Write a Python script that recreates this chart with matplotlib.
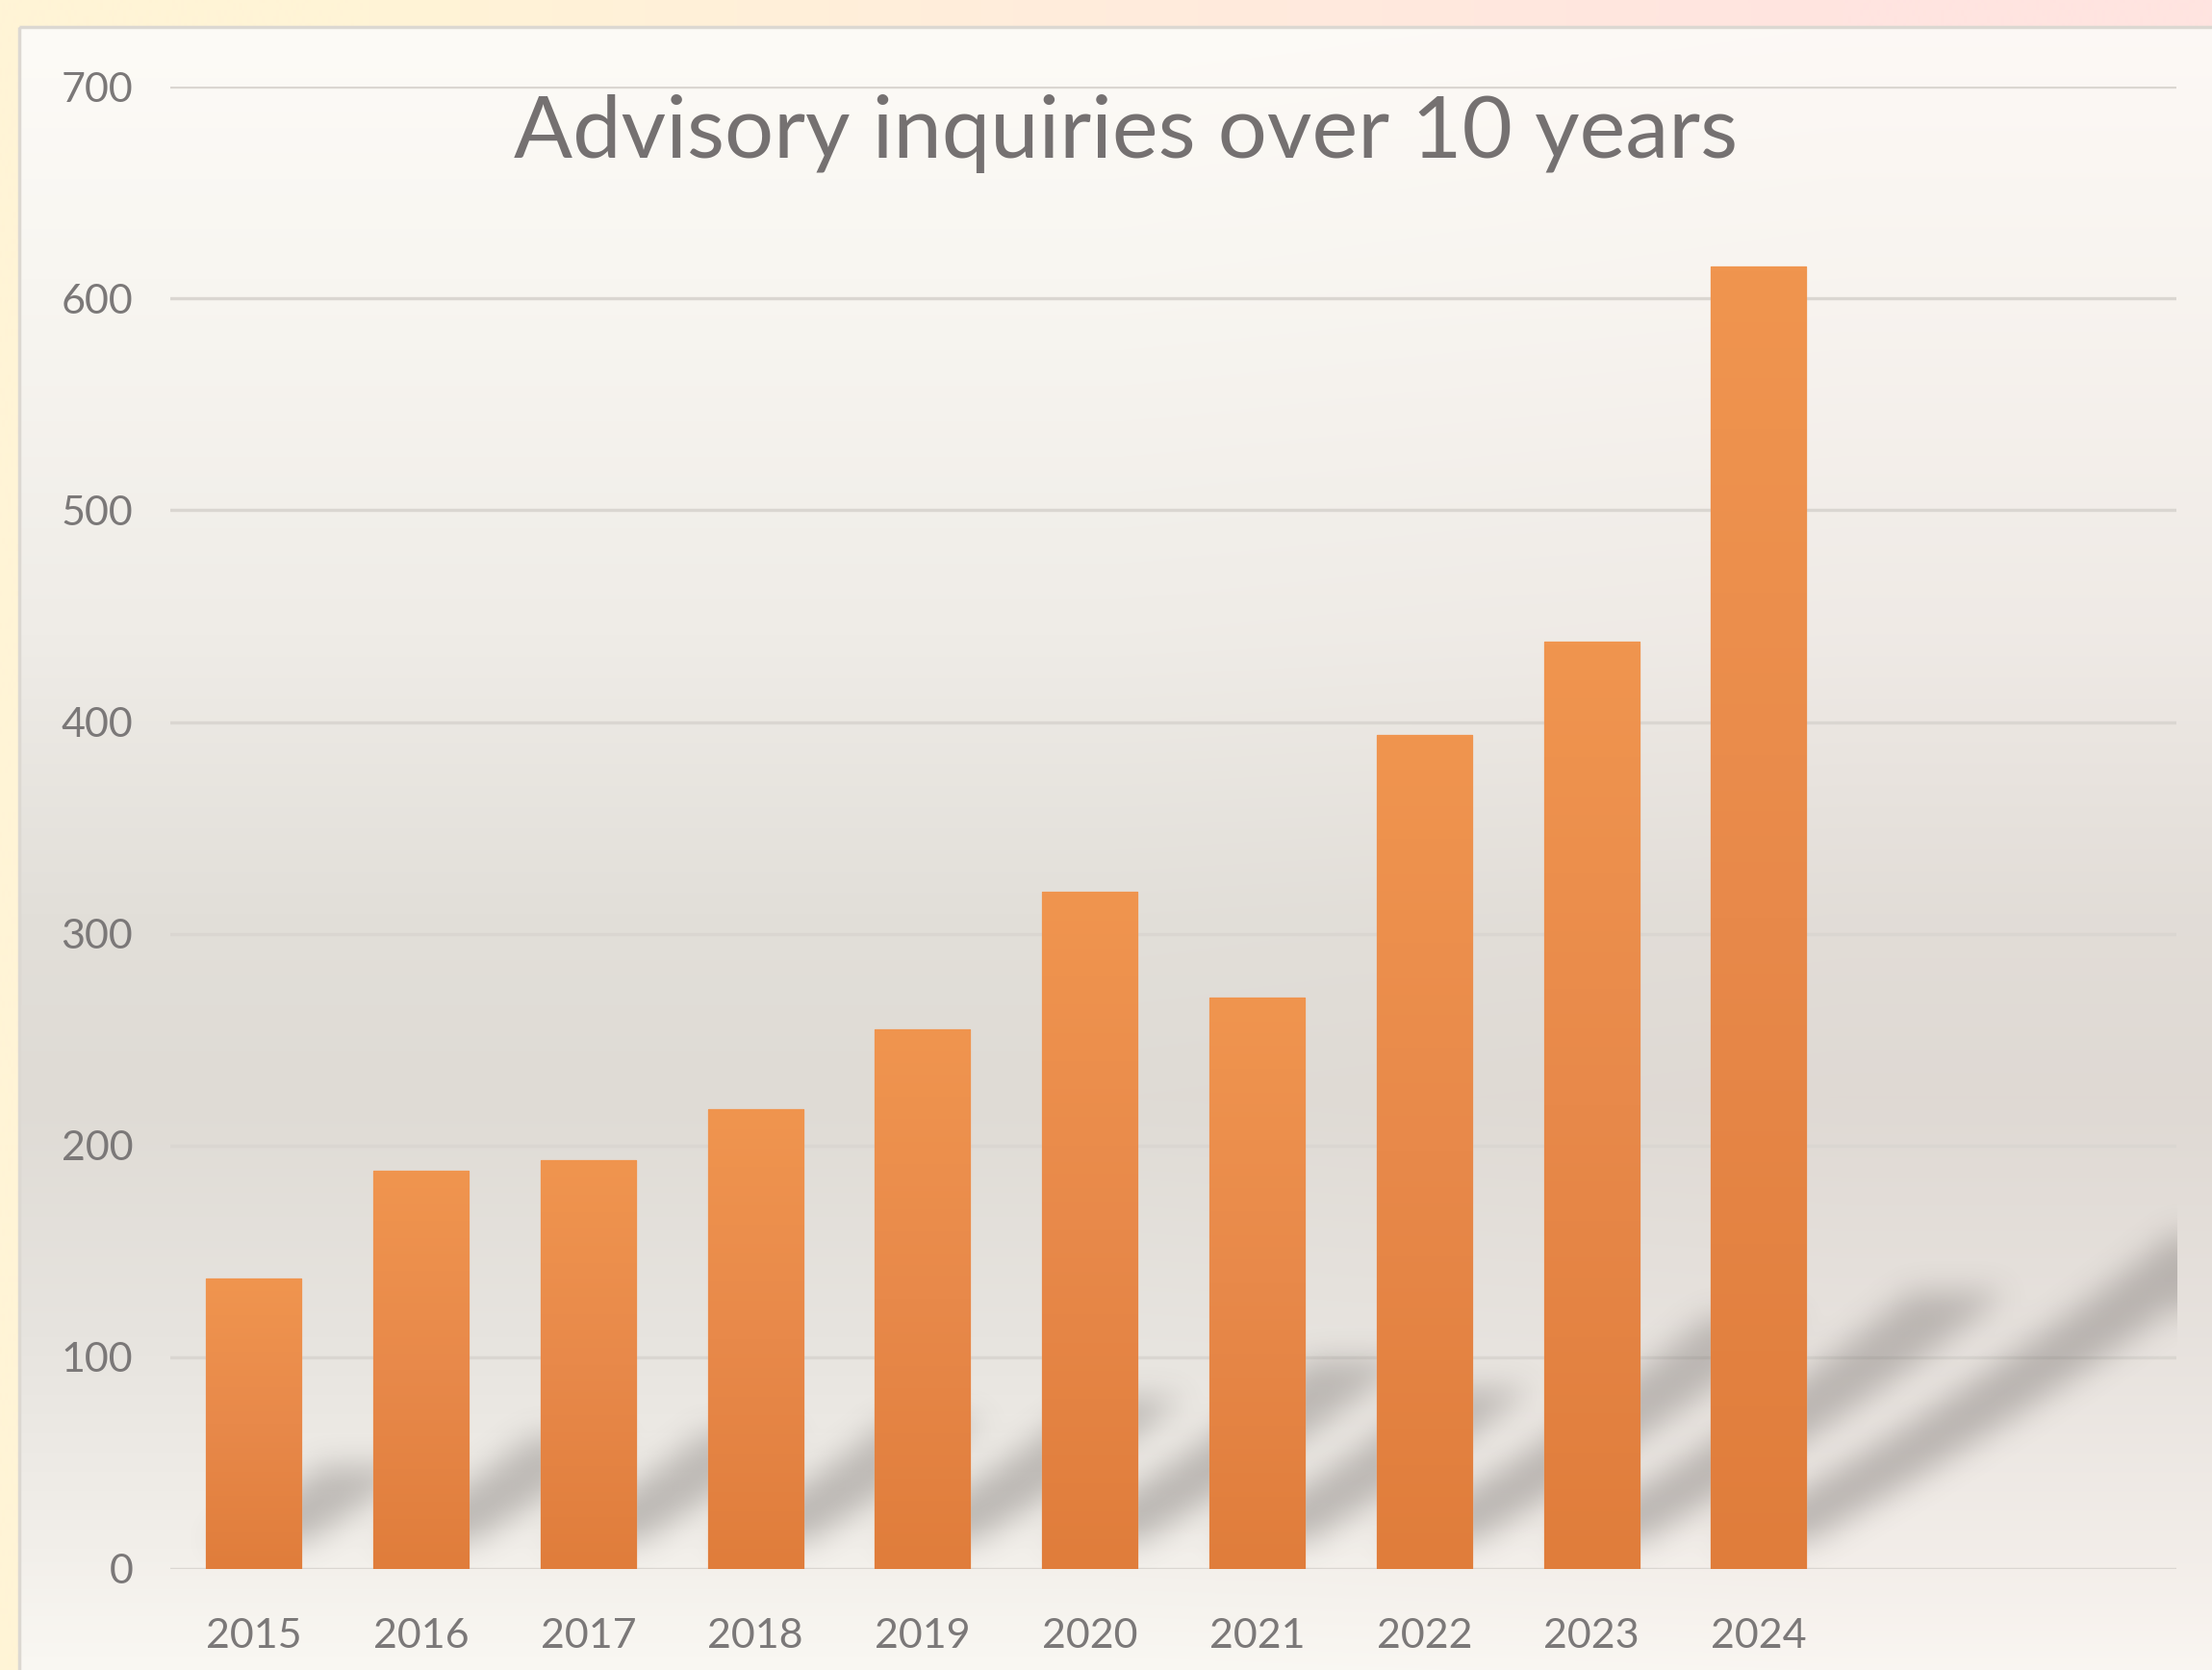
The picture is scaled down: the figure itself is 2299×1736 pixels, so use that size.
import numpy as np
import matplotlib.pyplot as plt
from matplotlib.colors import LinearSegmentedColormap, to_rgb
from matplotlib.patches import Rectangle

# data
years = ['2015', '2016', '2017', '2018', '2019', '2020', '2021', '2022', '2023', '2024']
inquiries = [137, 188, 193, 217, 255, 320, 270, 394, 438, 615]
n_slots = 12          # the category axis has two empty slots on the right
y_ticks = [0, 100, 200, 300, 400, 500, 600, 700]
title = 'Advisory inquiries over 10 years'

W, H = 2299, 1736
fig = plt.figure(figsize=(W / 100, H / 100), dpi=100)

# --- background: outer frame + chart panel -------------------------------
bg = fig.add_axes([0, 0, 1, 1])
bg.axis('off')

outer = np.array([[to_rgb('#fff4d6'), to_rgb('#ffecdc'), to_rgb('#ffe4e0')]])
bg.imshow(outer, extent=[0, W, H, 0], aspect='auto', interpolation='bilinear')

# vertical gradient of the panel (stops in pixels from the top)
stops = [(28, '#fdfbf7'), (290, '#f8f6f1'), (660, '#efece7'), (950, '#e2dfd9'),
         (1140, '#dfdbd5'), (1390, '#e7e4df'), (1610, '#f2efea'), (1736, '#faf8f3')]
rows = np.arange(28, H)
left_col = np.stack([np.interp(rows, [s[0] for s in stops],
                               [to_rgb(s[1])[k] for s in stops]) for k in range(3)], axis=1)
right_col = left_col.copy()
right_col[:, 2] -= 0.006
right_col[:, 1] -= 0.008
panel = np.stack([left_col, left_col, right_col], axis=1)
bg.imshow(np.clip(panel, 0, 1), extent=[20, W, H, 28], aspect='auto', interpolation='bilinear')
bg.add_patch(Rectangle((20, 28), W, H, fill=False, edgecolor='#dcd8d2', lw=2.5))
bg.set_xlim(0, W)
bg.set_ylim(H, 0)

# --- plot area -----------------------------------------------------------
ax = fig.add_axes([0.077, 0.0605, 0.907, 0.8875])
ax.set_facecolor('none')
x = np.arange(len(years))
bw = 0.57

# soft perspective shadows falling up and to the right behind the bars
nx, ny = 1040, 770
xs = np.linspace(-0.5, n_slots - 0.5, nx)
ys = np.linspace(0, 700, ny)
X, Y = np.meshgrid(xs, ys)
mask = np.zeros_like(X)
a = 1.2
lift = 12
for i, h in zip(x, inquiries):
    dy = 0.27 * h
    dx = 0.005 * h
    u = (Y - lift) / dy
    uc = np.clip(u, 0, 1)
    off = dx * uc * (a - (a - 1) * uc)
    m = (u >= 0) & (u <= 1) & (X >= i - bw / 2 + off) & (X <= i + bw / 2 + off)
    mask = np.maximum(mask, m * (1.0 - 0.15 * uc))


def box_blur(arr, r, axis):
    c = np.cumsum(np.pad(arr, [(r + 1, r) if k == axis else (0, 0) for k in range(2)],
                         mode='edge'), axis=axis)
    if axis == 0:
        return (c[2 * r + 1:] - c[:-2 * r - 1]) / (2 * r + 1)
    return (c[:, 2 * r + 1:] - c[:, :-2 * r - 1]) / (2 * r + 1)


for _ in range(3):
    mask = box_blur(mask, 7, 0)
    mask = box_blur(mask, 7, 1)
shadow = np.zeros((ny, nx, 4))
shadow[..., :3] = to_rgb('#5a5452')
shadow[..., 3] = 0.36 * mask
ax.imshow(shadow, extent=[-0.5, n_slots - 0.5, 0, 700], origin='lower',
          aspect='auto', zorder=2.5, interpolation='bilinear')

bars = ax.bar(x, inquiries, width=bw, color='#ea8a48', edgecolor='#f3ad7c',
              linewidth=1.0, zorder=3)
bar_cmap = LinearSegmentedColormap.from_list('bar', ['#e07d3b', '#e8894a', '#f0954f'])
grad = np.linspace(0, 1, 256).reshape(-1, 1)
for b in bars:
    im = ax.imshow(grad, extent=[b.get_x(), b.get_x() + b.get_width(), 0, b.get_height()],
                   origin='lower', aspect='auto', cmap=bar_cmap, zorder=3.2)
    im.set_clip_path(b)

ax.set_xlim(-0.5, n_slots - 0.5)
ax.set_ylim(0, 700)
ax.set_yticks(y_ticks)
ax.set_xticks(x)
ax.set_xticklabels(years)
ax.yaxis.grid(True, color='#dad6d1', linewidth=2.4, zorder=1.5)
ax.set_axisbelow(True)
for s in ax.spines.values():
    s.set_visible(False)
ax.tick_params(axis='both', length=0, labelsize=31, labelcolor='#7b7878')
ax.tick_params(axis='y', pad=28)
ax.tick_params(axis='x', pad=37)
for lab in ax.get_xticklabels() + ax.get_yticklabels():
    lab.set_fontfamily('Lato')

fig.text(0.509, 0.92, title, ha='center', va='center', fontsize=65,
         color='#757171', fontfamily='Lato')

fig.savefig('out.png', dpi=100)
